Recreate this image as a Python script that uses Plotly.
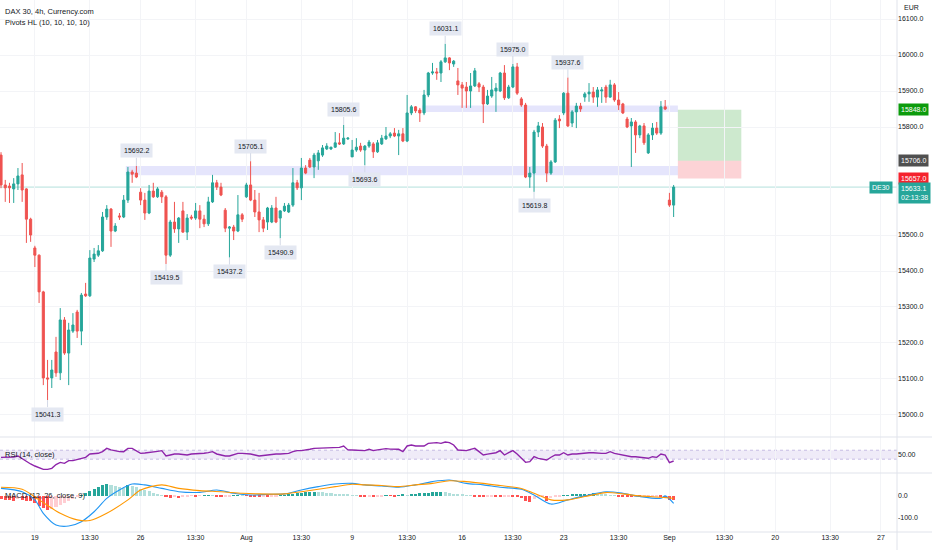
import plotly.graph_objects as go

# ---------------- data ----------------
opens = [15722, 15639, 15636, 15628, 15642, 15667, 15628, 15544, 15464, 15444,
         15342, 15103, 15103, 15175, 15117, 15264, 15172, 15233, 15286, 15233,
         15336, 15331, 15433, 15444, 15456, 15550, 15572, 15511, 15553, 15550,
         15597, 15675, 15672, 15619, 15597, 15561, 15622, 15606, 15619, 15606,
         15444, 15536, 15517, 15567, 15508, 15550, 15547, 15567, 15544, 15531,
         15592, 15645, 15633, 15569, 15519, 15522, 15511, 15556, 15606, 15639,
         15597, 15564, 15542, 15536, 15536, 15575, 15547, 15567, 15564, 15583,
         15645, 15631, 15686, 15708, 15689, 15706, 15722, 15739, 15739, 15744,
         15756, 15753, 15767, 15717, 15736, 15747, 15736, 15747, 15753, 15731,
         15753, 15767, 15775, 15783, 15775, 15781, 15761, 15839, 15856, 15847,
         15839, 15889, 15950, 15953, 15950, 15981, 15992, 15975, 15928, 15917,
         15911, 15900, 15914, 15920, 15911, 15864, 15886, 15900, 15900, 15950,
         15881, 15911, 15967, 15878, 15861, 15661, 15672, 15786, 15800, 15747,
         15672, 15703, 15822, 15839, 15894, 15811, 15842, 15858, 15883, 15892,
         15897, 15883, 15900, 15911, 15883, 15917, 15875, 15864, 15822, 15803,
         15814, 15778, 15803, 15728, 15778, 15797, 15783, 15856, 15597, 15583]
highs = [15730, 15653, 15645, 15658, 15686, 15700, 15630, 15548, 15470, 15446,
         15345, 15153, 15153, 15217, 15297, 15272, 15256, 15283, 15292, 15339,
         15367, 15458, 15464, 15472, 15564, 15583, 15575, 15533, 15561, 15611,
         15689, 15681, 15692.2, 15630, 15617, 15639, 15645, 15633, 15625, 15611,
         15542, 15592, 15550, 15592, 15558, 15556, 15589, 15583, 15556, 15606,
         15667, 15653, 15645, 15575, 15525, 15528, 15611, 15561, 15645, 15705.1,
         15625, 15617, 15550, 15578, 15583, 15606, 15569, 15589, 15589, 15686,
         15653, 15714, 15694, 15714, 15728, 15736, 15750, 15755, 15745, 15786,
         15783, 15805.6, 15772, 15764, 15769, 15756, 15750, 15764, 15758, 15764,
         15778, 15800, 15786, 15797, 15792, 15797, 15889, 15861, 15858, 15853,
         15903, 15953, 15978, 15964, 15986, 16031.1, 15994, 15986, 15964, 15925,
         15925, 15950, 15964, 15925, 15917, 15903, 15939, 15922, 15953, 15972,
         15917, 15975.0, 15978, 15883, 15867, 15689, 15792, 15814, 15811, 15753,
         15708, 15825, 15833, 15897, 15937.6, 15847, 15867, 15867, 15897, 15922,
         15911, 15911, 15911, 15917, 15931, 15922, 15897, 15867, 15828, 15825,
         15819, 15806, 15811, 15783, 15811, 15814, 15872, 15875, 15617, 15639]
lows = [15630, 15592, 15589, 15589, 15625, 15592, 15478, 15481, 15411, 15311,
        15083, 15041.3, 15075, 15106, 15097, 15167, 15083, 15228, 15214, 15194,
        15328, 15328, 15425, 15439, 15453, 15542, 15467, 15508, 15542, 15547,
        15589, 15645, 15658, 15583, 15542, 15558, 15603, 15603, 15589, 15419.5,
        15439, 15506, 15478, 15506, 15486, 15542, 15542, 15519, 15522, 15525,
        15589, 15625, 15608, 15508, 15437.2, 15486, 15508, 15536, 15603, 15594,
        15550, 15508, 15508, 15514, 15533, 15533, 15490.9, 15564, 15561, 15578,
        15625, 15597, 15669, 15686, 15658, 15681, 15717, 15736, 15736, 15742,
        15750, 15750, 15764, 15717, 15731, 15731, 15693.6, 15742, 15714, 15728,
        15750, 15764, 15769, 15772, 15722, 15758, 15758, 15833, 15839, 15814,
        15833, 15883, 15945, 15931, 15925, 15978, 15958, 15967, 15889, 15853,
        15853, 15853, 15911, 15897, 15811, 15861, 15881, 15842, 15897, 15875,
        15878, 15908, 15889, 15856, 15658, 15631, 15619.8, 15772, 15742, 15647,
        15667, 15700, 15797, 15833, 15800, 15800, 15797, 15842, 15870, 15870,
        15867, 15856, 15867, 15867, 15881, 15870, 15847, 15836, 15797, 15689,
        15728, 15769, 15750, 15725, 15764, 15778, 15778, 15847, 15578, 15550]
closes = [15639, 15631, 15631, 15642, 15664, 15625, 15544, 15500, 15444, 15342,
          15103, 15100, 15125, 15117, 15264, 15172, 15236, 15250, 15233, 15333,
          15331, 15436, 15447, 15456, 15550, 15572, 15511, 15525, 15550, 15597,
          15675, 15669, 15661, 15597, 15561, 15622, 15606, 15628, 15606, 15444,
          15536, 15517, 15547, 15508, 15547, 15547, 15567, 15544, 15531, 15592,
          15645, 15633, 15611, 15519, 15522, 15511, 15556, 15544, 15639, 15597,
          15564, 15542, 15519, 15575, 15575, 15536, 15567, 15580, 15583, 15645,
          15631, 15686, 15672, 15689, 15722, 15728, 15742, 15747, 15744, 15756,
          15753, 15769, 15769, 15736, 15744, 15736, 15747, 15758, 15731, 15756,
          15769, 15775, 15781, 15775, 15781, 15761, 15839, 15856, 15845, 15839,
          15889, 15950, 15953, 15950, 15981, 15992, 15978, 15983, 15917, 15908,
          15900, 15914, 15956, 15911, 15864, 15886, 15903, 15908, 15950, 15881,
          15911, 15967, 15894, 15861, 15661, 15672, 15786, 15803, 15747, 15672,
          15703, 15819, 15817, 15894, 15803, 15842, 15858, 15850, 15892, 15897,
          15883, 15903, 15903, 15883, 15917, 15875, 15861, 15839, 15800, 15814,
          15778, 15803, 15756, 15778, 15797, 15783, 15856, 15850, 15583, 15633.1]
bars = list(range(1, len(closes) + 1))

# Pivots HL (bar numbers of the marked highs / lows)
pivot_high_bars = [33, 60, 82, 106, 122, 135]
pivot_low_bars = [12, 40, 55, 67, 87, 127]

# support / resistance zones (price bands) and their first bar
zone_low = (15666, 15692)
zone_high = (15842, 15860)
zone_low_start, zone_high_start, zone_end = 30.5, 100.5, 161

# long position tool
pos_target, pos_entry, pos_stop = 15848.0, 15706.0, 15657.0
pos_start, pos_end = 161, 176

# RSI (14, close)
rsi_vals = [45.8, 45.8, 46, 46.5, 48.2, 43, 38.1, 34, 30.4, 27,
            24.5, 24.5, 26.3, 33, 36.9, 35.2, 39.9, 39.9, 42, 44.1,
            45.8, 51.8, 52.5, 53, 55.9, 61.8, 59, 57.1, 56, 55.9,
            61.8, 61.8, 58, 52.9, 53.5, 54.1, 55.9, 56.5, 57.7, 48.2,
            50, 51.8, 51.8, 51, 50, 51.8, 51.8, 51.8, 53, 54.1,
            55.9, 51.8, 50, 48.2, 48.2, 50, 52.9, 52.9, 52.9, 51.8,
            50, 48.2, 49, 50, 51.8, 51.8, 51.8, 52.5, 52.9, 55.9,
            57.7, 57.7, 58.5, 60.1, 61.8, 62, 63, 63.6, 63.6, 63.6,
            63.6, 66, 59, 58.9, 58.9, 58, 57.7, 60.1, 57.7, 59,
            60.1, 61.3, 60.5, 60.1, 60.1, 55.9, 66, 67.8, 66, 66,
            66, 70.7, 71.5, 71.9, 70.7, 73.1, 71.9, 67.8, 58.9, 58,
            57.7, 60.1, 61.8, 56, 50, 51.5, 52.9, 54, 57.7, 50,
            54, 57.7, 51.8, 45, 36.9, 38.1, 47, 44.1, 43, 41.1,
            46, 50, 50, 54.1, 50, 51.8, 51.8, 52.5, 54.1, 54.1,
            54.1, 52.9, 52.9, 52.9, 55.9, 52.9, 51.5, 50, 48.5, 47,
            47, 45.8, 45, 44.1, 47, 45.8, 51.8, 50, 36.3, 39.3]
rsi_band = (42.5, 58.5)

# MACD (12, 26, close, 9)
macd_hist = [-15, -18, -20, -22, -14, -18, -22, -25, -35, -48,
             -58, -65, -60, -52, -44, -35, -26, -16, -7, 3,
             12, 22, 32, 40, 47, 53, 48, 42, 38, 34,
             48, 44, 38, 32, 26, 20, 14, 8, 3, -5,
             -9, -7, -10, -4, -2, -1, -3, -1, 2, 3,
             1, -3, -6, -5, -2, 1, 2, 1, -1, -3,
             -5, -6, -5, -7, -4, -2, 1, 3, 6, 9,
             12, 14, 16, 17, 18, 17, 15, 13, 11, 9,
             7, 5, 4, 2, 1, -2, -4, -3, -5, -3,
             -2, 1, -1, -2, 2, 4, 3, 6, 9, 11,
             13, 14, 16, 17, 18, 15, 12, 9, 6, 4,
             2, 1, -2, -4, -6, -5, -3, -6, -8, -4,
             -3, -6, -8, -10, -22, -27, -15, -8, -4, -22,
             -12, -6, -2, 1, 3, 5, 6, 7, 8, 9,
             10, 9, 7, 5, 3, 1, -2, -4, -5, -6,
             -5, -7, -6, -5, -4, -3, -6, -12, -18, -20]
macd_bars = [1, 6, 9, 11, 14, 17, 20, 23, 26, 29, 32, 35, 39, 43, 48, 52, 56, 60, 64, 68,
             72, 76, 80, 84, 87, 91, 95, 99, 103, 107, 111, 115, 119, 124, 127, 131, 135,
             139, 144, 148, 152, 157, 158, 160]
macd_line = [33, 18, -19, -80, -133, -138, -118, -73, -12, 26, 53, 49, 33, 18, 15, 26, 11,
             3, 6, 8, 26, 41, 53, 56, 49, 44, 38, 49, 64, 71, 56, 49, 38, 29, 3, -38, -19,
             -1, 18, 11, -4, -12, -1, -35]
signal_bars = [1, 6, 10, 15, 19, 22, 26, 31, 34, 39, 43, 48, 53, 58, 62, 68, 72, 76, 80,
               84, 87, 91, 95, 99, 103, 107, 111, 115, 119, 124, 127, 131, 135, 139, 144,
               148, 152, 157, 160]
signal_line = [38, 29, -19, -80, -110, -113, -80, -19, 26, 49, 33, 23, 18, 11, 8, 8, 18,
               29, 41, 52, 49, 46, 41, 49, 56, 68, 64, 56, 46, 33, 11, -19, -19, -4, 14,
               8, -1, -7, -12]

# time axis labels (bar number where each label sits)
tick_bars = [9, 22, 34, 47, 59, 72, 84, 97, 110, 122, 134, 147, 159, 172, 184, 197, 209]
tick_text = ["19", "13:30", "26", "13:30", "Aug", "13:30", "9", "13:30", "16", "13:30",
             "23", "13:30", "Sep", "13:30", "20", "13:30", "27"]
# price scale labels (15600 / 15700 are hidden behind the price tags)
price_ticks = [15000, 15100, 15200, 15300, 15400, 15500, 15800, 15900, 16000, 16100]
last_price = closes[-1]
countdown = "02:13:38"

# ---------------- styling ----------------
UP, DN = "#26a69a", "#ef5350"
FONT = "Liberation Sans"
TXT = "#131722"
GRID = "#f3f4f7"
SEP = "#e0e3eb"
X_RANGE = [0.76, 212.8]
P_RANGE = [14938.9, 16152.8]

fig = go.Figure()

fig.add_trace(go.Candlestick(
    x=bars, open=opens, high=highs, low=lows, close=closes,
    increasing=dict(line=dict(color=UP, width=1), fillcolor=UP),
    decreasing=dict(line=dict(color=DN, width=1), fillcolor=DN),
    whiskerwidth=0, hoverinfo="skip", showlegend=False, xaxis="x", yaxis="y"))

# RSI
fig.add_trace(go.Scatter(x=bars, y=rsi_vals, mode="lines",
                         line=dict(color="#8e24aa", width=1.4),
                         hoverinfo="skip", showlegend=False, xaxis="x2", yaxis="y2"))

# MACD histogram colours: growing / falling above and below zero
hist_colors = []
for i, h in enumerate(macd_hist):
    prev = macd_hist[i - 1] if i > 0 else h
    if h >= 0:
        hist_colors.append("#26a69a" if h >= prev else "#b2dfdb")
    else:
        hist_colors.append("#ffcdd2" if h > prev else "#ff5252")
fig.add_trace(go.Bar(x=bars, y=macd_hist, marker=dict(color=hist_colors, line=dict(width=0)),
                     width=0.72, hoverinfo="skip", showlegend=False, xaxis="x3", yaxis="y3"))
fig.add_trace(go.Scatter(x=macd_bars, y=macd_line, mode="lines",
                         line=dict(color="#2196f3", width=1.1, shape="spline", smoothing=0.8),
                         hoverinfo="skip", showlegend=False, xaxis="x3", yaxis="y3"))
fig.add_trace(go.Scatter(x=signal_bars, y=signal_line, mode="lines",
                         line=dict(color="#ff9800", width=1.1, shape="spline", smoothing=0.8),
                         hoverinfo="skip", showlegend=False, xaxis="x3", yaxis="y3"))

shapes = []
# zones
for (lo, hi), x0 in ((zone_low, zone_low_start), (zone_high, zone_high_start)):
    shapes.append(dict(type="rect", xref="x", yref="y", x0=x0, x1=zone_end, y0=lo, y1=hi,
                       fillcolor="rgba(103,98,235,0.17)", line=dict(width=0), layer="below"))
# position tool
shapes.append(dict(type="rect", xref="x", yref="y", x0=pos_start, x1=pos_end,
                   y0=pos_entry, y1=pos_target, fillcolor="rgba(76,175,80,0.28)",
                   line=dict(width=0), layer="below"))
shapes.append(dict(type="rect", xref="x", yref="y", x0=pos_start, x1=pos_end,
                   y0=pos_stop, y1=pos_entry, fillcolor="rgba(242,54,69,0.22)",
                   line=dict(width=0), layer="below"))
# last price line
shapes.append(dict(type="line", xref="paper", yref="y", x0=0, x1=1, y0=last_price, y1=last_price,
                   line=dict(color="rgba(38,166,154,0.35)", width=1), layer="below"))
# RSI band
shapes.append(dict(type="rect", xref="paper", yref="y2", x0=0, x1=1, y0=rsi_band[0], y1=rsi_band[1],
                   fillcolor="rgba(126,87,194,0.12)", line=dict(width=0), layer="below"))
for v in rsi_band:
    shapes.append(dict(type="line", xref="paper", yref="y2", x0=0, x1=1, y0=v, y1=v,
                       line=dict(color="rgba(140,120,200,0.45)", width=1, dash="dot"), layer="below"))
# pane separators and price-scale border
for yp in (0.1786, 0.1109, 0.0):
    shapes.append(dict(type="line", xref="paper", yref="paper", x0=0, x1=1.04, y0=yp, y1=yp,
                       line=dict(color=SEP, width=1)))
shapes.append(dict(type="line", xref="paper", yref="paper", x0=1, x1=1, y0=-0.04, y1=1,
                   line=dict(color=SEP, width=1)))

annotations = []
lab_font = dict(family=FONT, size=7, color=TXT)
for b in pivot_high_bars:
    annotations.append(dict(x=b, y=highs[b - 1], xref="x", yref="y", text=f"{highs[b-1]:.1f}",
                            showarrow=True, arrowhead=0, arrowwidth=1, arrowcolor="#d3d9e6",
                            ax=0, ay=-15, bgcolor="#e4e8f2", borderpad=3, font=lab_font))
for b in pivot_low_bars:
    annotations.append(dict(x=b, y=lows[b - 1], xref="x", yref="y", text=f"{lows[b-1]:.1f}",
                            showarrow=True, arrowhead=0, arrowwidth=1, arrowcolor="#d3d9e6",
                            ax=0, ay=14, bgcolor="#e4e8f2", borderpad=3, font=lab_font))

# legends
annotations += [
    dict(x=0, y=0.9793, xref="paper", yref="paper", xanchor="left", yanchor="middle", xshift=3,
         text="DAX 30, 4h, Currency.com", showarrow=False, font=dict(family=FONT, size=7.5, color=TXT)),
    dict(x=0, y=0.9568, xref="paper", yref="paper", xanchor="left", yanchor="middle", xshift=3,
         text="Pivots HL (10, 10, 10, 10)", showarrow=False, font=dict(family=FONT, size=7.5, color=TXT)),
    dict(x=0, y=0.1466, xref="paper", yref="paper", xanchor="left", yanchor="middle", xshift=3,
         text="RSI (14, close)", showarrow=False, font=dict(family=FONT, size=7.5, color=TXT)),
    dict(x=0, y=0.0695, xref="paper", yref="paper", xanchor="left", yanchor="middle", xshift=3,
         text="MACD (12, 26, close, 9)", showarrow=False, font=dict(family=FONT, size=7.5, color=TXT)),
    dict(x=1, y=1, xref="paper", yref="paper", xanchor="center", yanchor="top", xshift=14, yshift=-2,
         text="EUR", showarrow=False, font=dict(family=FONT, size=7, color=TXT)),
]
# price scale tags
tag_font = dict(family=FONT, size=7, color="white")
for val, col in ((pos_target, "#0c9b0c"), (pos_entry, "#505050"), (pos_stop, "#f5222d")):
    annotations.append(dict(x=1, y=val, xref="paper", yref="y", xanchor="left", yanchor="middle",
                            xshift=1, text=f"{val:.1f}", showarrow=False, bgcolor=col,
                            borderpad=2, font=tag_font))
annotations.append(dict(x=1, y=last_price, xref="paper", yref="y", xanchor="left", yanchor="top",
                        xshift=1, yshift=5, text=f"{last_price:.1f}<br>{countdown}", showarrow=False,
                        bgcolor="#26a69a", borderpad=2, align="left", font=tag_font))
annotations.append(dict(x=1, y=last_price, xref="paper", yref="y", xanchor="right", yanchor="middle",
                        xshift=-4, text="DE30", showarrow=False, bgcolor="#26a69a",
                        borderpad=2, font=tag_font))

axis_font = dict(family=FONT, size=7, color=TXT)
xcommon = dict(range=X_RANGE, tickvals=tick_bars, ticktext=tick_text, showgrid=True,
               gridcolor=GRID, zeroline=False, showline=False, ticks="", fixedrange=True)

fig.update_layout(
    width=932, height=550,
    margin=dict(l=0, r=35, t=0, b=18),
    paper_bgcolor="white", plot_bgcolor="white",
    font=dict(family=FONT, size=7, color=TXT),
    showlegend=False, bargap=0,
    xaxis=dict(**xcommon, domain=[0, 1], anchor="y", showticklabels=False,
               rangeslider=dict(visible=False)),
    xaxis2=dict(**xcommon, domain=[0, 1], anchor="y2", showticklabels=False, matches="x"),
    xaxis3=dict(**xcommon, domain=[0, 1], anchor="y3", showticklabels=True, matches="x",
                tickfont=axis_font),
    yaxis=dict(domain=[0.1786, 1], range=P_RANGE, side="right", tickvals=price_ticks,
               ticktext=[f"{v:.1f}" for v in price_ticks], showgrid=True, gridcolor=GRID,
               zeroline=False, ticks="", tickfont=axis_font, fixedrange=True),
    yaxis2=dict(domain=[0.1109, 0.1786], range=[18, 82], side="right", tickvals=[50],
                ticktext=["50.00"], showgrid=False, zeroline=False, ticks="", tickfont=axis_font),
    yaxis3=dict(domain=[0, 0.1109], range=[-165, 103], side="right", tickvals=[0, -100],
                ticktext=["0.0", "-100.0"], showgrid=False, zeroline=False, ticks="",
                tickfont=axis_font),
    shapes=shapes, annotations=annotations,
)

fig.write_html("out.html", config={"displayModeBar": False},
               post_script="document.body.style.margin='0px';document.body.style.overflow='hidden';")
